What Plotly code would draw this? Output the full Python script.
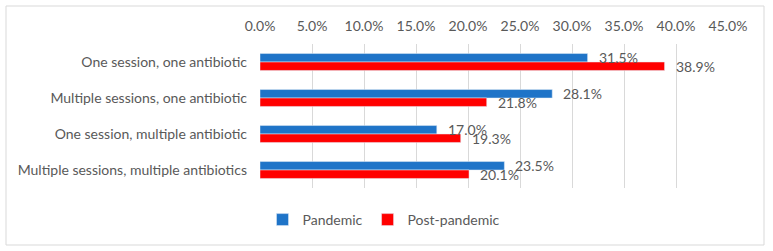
import plotly.graph_objects as go

categories = ["One session, one antibiotic", "Multiple sessions, one antibiotic",
              "One session, multiple antibiotic", "Multiple sessions, multiple antibiotics"]
pandemic = [0.315, 0.281, 0.170, 0.235]
post_pandemic = [0.389, 0.218, 0.193, 0.201]
series_names = ["Pandemic", "Post-pandemic"]
series_values = [pandemic, post_pandemic]
series_colors = ["#1F74C8", "#FF0000"]

FONT = "Lato"
GREY = "#595959"
FS = 14
BARGAP = 0.53

L, R, T, B = 260, 45, 44, 63
W, H = 773, 251
pw, ph = W - L - R, H - T - B
band = ph / len(categories)
bar_px = band * (1 - BARGAP) / 2

fig = go.Figure()
for name, vals, col in zip(series_names, series_values, series_colors):
    fig.add_trace(go.Bar(y=categories, x=vals, name=name, orientation="h",
                         marker_color=col, cliponaxis=False))

annotations = []
for i, vals in enumerate(series_values):
    shift = bar_px / 2 if i == 0 else -bar_px / 2
    for cat, v in zip(categories, vals):
        annotations.append(dict(x=v, y=cat, xref="x", yref="y", text=f"{v*100:.1f}%",
                                showarrow=False, xanchor="left", yanchor="middle",
                                xshift=9, yshift=shift,
                                font=dict(size=FS, color=GREY, family=FONT)))

fig.update_layout(
    width=W, height=H,
    margin=dict(l=L, r=R, t=T, b=B),
    paper_bgcolor="white", plot_bgcolor="white",
    barmode="group", bargap=BARGAP, bargroupgap=0,
    font=dict(family=FONT, size=FS, color=GREY),
    showlegend=True,
    legend=dict(orientation="h", x=(384 - L) / pw, y=(T + ph - 220) / ph,
                xanchor="center", yanchor="middle", font=dict(size=FS, color=GREY),
                traceorder="normal", itemwidth=30),
    xaxis=dict(side="top", range=[0, 0.45], dtick=0.05, tickformat=".1%",
               showgrid=True, gridcolor="#D9D9D9", gridwidth=1, zeroline=False,
               showline=False, ticks="", ticklabelstandoff=9,
               tickfont=dict(size=FS, color=GREY, family=FONT), fixedrange=True),
    yaxis=dict(autorange="reversed", showgrid=False, zeroline=False, showline=False,
               ticks="", ticklabelstandoff=12,
               tickfont=dict(size=FS, color=GREY, family=FONT)),
    annotations=annotations,
    shapes=[dict(type="rect", xref="paper", yref="paper",
                 x0=(6 - L) / pw, x1=(764 - L) / pw,
                 y0=(T + ph - 245) / ph, y1=(T + ph - 6) / ph,
                 line=dict(color="#D9D9D9", width=1), fillcolor="rgba(0,0,0,0)",
                 layer="below")],
)

fig.write_html("out.html")
